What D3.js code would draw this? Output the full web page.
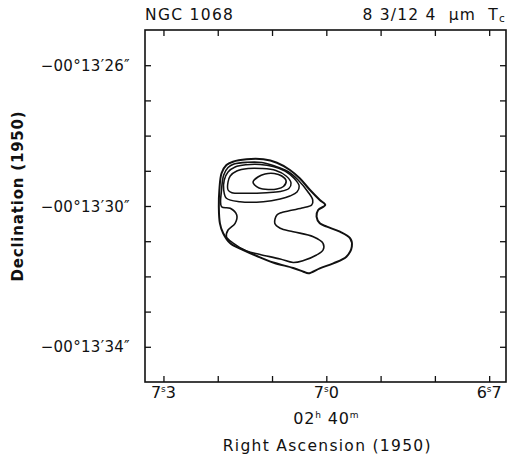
<!DOCTYPE html>
<html><head><meta charset="utf-8">
<script src="https://cdn.jsdelivr.net/npm/d3@7"></script>
<style>
body{margin:0;background:#fff;}
text{font-family:"DejaVu Sans",sans-serif;fill:#111;white-space:pre;}
</style></head>
<body><svg id="c" width="511" height="464"></svg>
<script>
// ---- data (RA seconds of 02h40m, Dec arcsec of -00°13') ----
const titleLeft = "NGC 1068";
const raTicks = [7.3, 7.2, 7.1, 7.0, 6.9, 6.8, 6.7];
const raLabelValues = [7.3, 7.0, 6.7];
const raLabelInt = ["7", "7", "6"];
const raLabelFrac = ["3", "0", "7"];
const decTicks = [-26, -27, -28, -29, -30, -31, -32, -33, -34];
const decLabelValues = [-26, -30, -34];
const decLabels = ["\u221200\u00b013\u203226\u2033", "\u221200\u00b013\u203230\u2033", "\u221200\u00b013\u203234\u2033"];

const contour1 = [[7.172,-28.742],[7.184,-28.835],[7.193,-29.071],[7.197,-29.546],[7.198,-30.020],[7.196,-30.492],[7.190,-30.776],[7.177,-31.060],[7.153,-31.250],[7.128,-31.421],[7.098,-31.605],[7.061,-31.762],[7.042,-31.867],[7.033,-31.912],[7.012,-31.770],[6.987,-31.628],[6.963,-31.441],[6.953,-31.156],[6.956,-30.918],[6.975,-30.730],[6.999,-30.588],[7.012,-30.492],[7.018,-30.304],[7.015,-30.114],[7.002,-29.972],[7.012,-29.830],[7.030,-29.546],[7.049,-29.213],[7.067,-28.977],[7.091,-28.770],[7.116,-28.673],[7.147,-28.673]];
const contour2 = [[7.170,-28.807],[7.181,-28.906],[7.189,-29.119],[7.193,-29.546],[7.193,-30.020],[7.177,-30.065],[7.165,-30.256],[7.168,-30.492],[7.181,-30.682],[7.184,-30.872],[7.171,-31.060],[7.147,-31.279],[7.122,-31.378],[7.085,-31.506],[7.061,-31.605],[7.042,-31.549],[7.018,-31.392],[7.006,-31.250],[7.006,-31.060],[7.024,-30.872],[7.061,-30.730],[7.085,-30.634],[7.095,-30.492],[7.091,-30.256],[7.082,-30.185],[7.070,-30.142],[7.045,-30.057],[7.027,-29.972],[7.025,-29.830],[7.034,-29.594],[7.052,-29.262],[7.070,-29.026],[7.095,-28.864],[7.119,-28.764],[7.146,-28.759]];
const contour3 = [[7.189,-29.546],[7.184,-29.781],[7.159,-29.878],[7.116,-29.878],[7.085,-29.801],[7.067,-29.716],[7.054,-29.602],[7.050,-29.432],[7.060,-29.205],[7.076,-29.006],[7.098,-28.878],[7.122,-28.821],[7.148,-28.830],[7.168,-28.892],[7.181,-29.034],[7.188,-29.262]];
const contour4 = [[7.181,-29.546],[7.174,-29.622],[7.147,-29.639],[7.110,-29.622],[7.085,-29.588],[7.069,-29.503],[7.065,-29.347],[7.074,-29.148],[7.093,-28.992],[7.119,-28.935],[7.144,-28.935],[7.165,-29.006],[7.177,-29.148],[7.181,-29.318]];
const contour5 = [[7.135,-29.318],[7.126,-29.176],[7.113,-29.091],[7.096,-29.077],[7.082,-29.148],[7.074,-29.290],[7.079,-29.446],[7.091,-29.517],[7.107,-29.531],[7.124,-29.489],[7.132,-29.404]];
const contours = [contour1, contour2, contour3, contour4, contour5];
const contourWidths = [2, 1.6, 1.5, 1.5, 1.6];

// ---- layout ----
const svg = d3.select("#c");
const L = 145, R = 506, T = 30, B = 382;
const x = d3.scaleLinear().domain([7.334, 6.669]).range([L, R]);
const y = d3.scaleLinear().domain([-25, -35]).range([T, B]);

// contours
const line = d3.line().x(d => x(d[0])).y(d => y(d[1])).curve(d3.curveCatmullRomClosed.alpha(0.5));
svg.append("g").selectAll("path").data(contours).join("path")
  .attr("d", d => line(d)).attr("fill", "none").attr("stroke", "#111")
  .attr("stroke-width", (d, i) => contourWidths[i]).attr("stroke-linejoin", "round");

// axes (ticks inward)
const tk = 6;
svg.append("g").attr("transform", `translate(0,${B})`)
  .call(d3.axisBottom(x).tickValues(raTicks).tickSize(-tk).tickFormat(""));
svg.append("g").attr("transform", `translate(0,${T})`)
  .call(d3.axisTop(x).tickValues(raTicks).tickSize(-tk).tickFormat(""));
svg.append("g").attr("transform", `translate(${L},0)`)
  .call(d3.axisLeft(y).tickValues(decTicks).tickSize(-tk).tickFormat(""));
svg.append("g").attr("transform", `translate(${R},0)`)
  .call(d3.axisRight(y).tickValues(decTicks).tickSize(-tk).tickFormat(""));
svg.selectAll(".domain").remove();
svg.selectAll(".tick line").attr("stroke", "#111").attr("stroke-width", 1.3);
svg.append("rect").attr("x", L).attr("y", T).attr("width", R - L).attr("height", B - T)
  .attr("fill", "none").attr("stroke", "#111").attr("stroke-width", 1.6);

// y labels
svg.append("g").selectAll("text").data(decLabelValues).join("text")
  .attr("x", L - 15).attr("y", d => y(d) + 5.5).attr("text-anchor", "end")
  .attr("font-size", 15).attr("letter-spacing", 0.3).text((d, i) => decLabels[i]);

// x labels
const xl = svg.append("g").selectAll("text").data(raLabelValues).join("text")
  .attr("x", d => x(d)).attr("y", 398).attr("text-anchor", "middle").attr("font-size", 16);
xl.append("tspan").text((d, i) => raLabelInt[i]);
xl.append("tspan").attr("font-size", 9).attr("dy", -6).text("s");
xl.append("tspan").attr("dy", 6).text((d, i) => raLabelFrac[i]);

const mid = svg.append("text").attr("x", x(7.0)).attr("y", 424).attr("text-anchor", "middle")
  .attr("font-size", 16).attr("letter-spacing", 0.8);
mid.append("tspan").text("02");
mid.append("tspan").attr("font-size", 9).attr("dy", -6).text("h");
mid.append("tspan").attr("dy", 6).text(" 40");
mid.append("tspan").attr("font-size", 9).attr("dy", -6).text("m");

svg.append("text").attr("x", x(7.0) + 1).attr("y", 451).attr("text-anchor", "middle")
  .attr("font-size", 15.5).attr("letter-spacing", 1.3).text("Right Ascension (1950)");

svg.append("text").attr("transform", `translate(23,${(T + B) / 2 - 10}) rotate(-90)`)
  .attr("text-anchor", "middle").attr("font-size", 15).attr("font-weight", "bold")
  .attr("letter-spacing", 0.8).text("Declination (1950)");

// titles
svg.append("text").attr("x", L).attr("y", 20).attr("font-size", 15.5).attr("letter-spacing", 1.3)
  .text(titleLeft);
const tr = svg.append("text").attr("x", R).attr("y", 20).attr("text-anchor", "end").attr("font-size", 15.5).attr("letter-spacing", 1.2);
tr.append("tspan").text("8 3/12 4  \u03bcm  T");
tr.append("tspan").attr("font-size", 10.5).attr("dy", 2).text("c");
</script></body></html>
